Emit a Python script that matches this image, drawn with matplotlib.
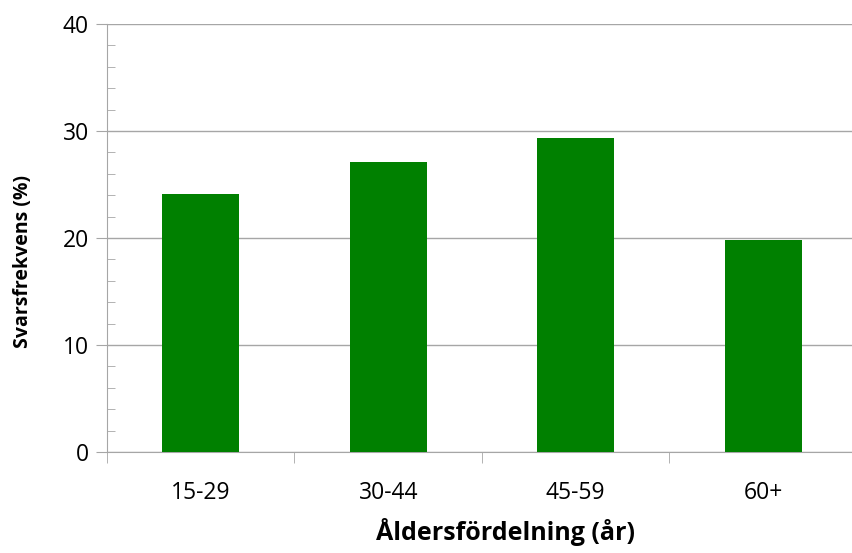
import matplotlib.pyplot as plt
from matplotlib.ticker import MultipleLocator

# Åldersgrupper och svarsfrekvens
kategorier = ['15-29', '30-44', '45-59', '60+']
svarsfrekvens = [24.1, 27.1, 29.3, 19.8]

fig = plt.figure(figsize=(8.53, 5.53), dpi=100)
ax = fig.add_axes([107 / 853, 101 / 553, 750 / 853, 428 / 553])

x = range(len(kategorier))
ax.bar(x, svarsfrekvens, width=0.41, color='#008000', zorder=3)

ax.set_xlim(-0.5, len(kategorier) - 0.5)
ax.set_ylim(0, 40)

# Rutnät och axlar
ax.yaxis.set_major_locator(MultipleLocator(10))
ax.yaxis.set_minor_locator(MultipleLocator(2))
ax.grid(axis='y', color='#a6a6a6', linewidth=1, zorder=0)
for side in ['top', 'right']:
    ax.spines[side].set_visible(False)
ax.spines['left'].set_color('#a6a6a6')
ax.spines['bottom'].set_color('#a6a6a6')

ax.tick_params(axis='y', which='major', direction='out', length=8, color='#a6a6a6',
               labelsize=16.5, pad=5)
ax.tick_params(axis='y', which='minor', direction='in', length=6, color='#a6a6a6')

# Kategorietiketter centrerade, streck mellan kategorierna
ax.set_xticks(list(x))
ax.set_xticklabels(kategorier, fontsize=16.5, family='Open Sans')
ax.tick_params(axis='x', which='major', length=0, pad=21)
ax.set_xticks([i - 0.5 for i in range(len(kategorier) + 1)], minor=True)
ax.tick_params(axis='x', which='minor', direction='out', length=8, color='#a6a6a6')
for lbl in ax.get_yticklabels():
    lbl.set_family('Open Sans')

ax.set_xlabel('Åldersfördelning (år)', fontsize=18, fontweight='bold', family='Open Sans')
ax.xaxis.set_label_coords(0.532, -0.155)
ax.set_ylabel('Svarsfrekvens (%)', fontsize=14, fontweight='bold', family='Open Sans')
ax.yaxis.set_label_coords(-0.099, 0.446)

fig.savefig('out.png', dpi=100)
